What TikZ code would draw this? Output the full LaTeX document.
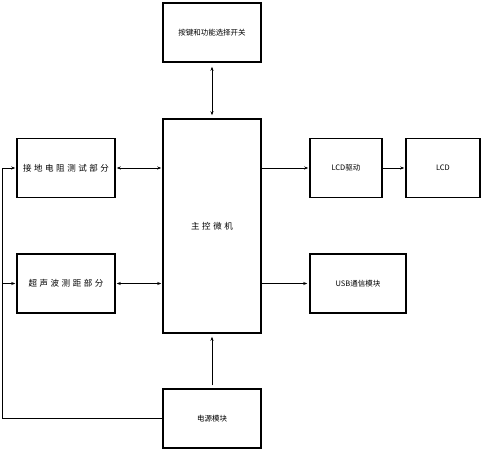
\documentclass[tikz,border=0pt]{standalone}
\usepackage{fontspec}
\setmainfont{Noto Sans CJK SC}
\newfontfamily\widecjk[LetterSpace=30]{Noto Sans CJK SC}
\usetikzlibrary{arrows.meta}

\begin{document}
\begin{tikzpicture}[x=1pt, y=-1pt, >={Stealth[length=4pt,width=3pt]},
    every node/.style={font=\fontsize{7.5}{9}\selectfont}]
  \tikzstyle{block}=[draw, line width=1.5pt, inner sep=0pt, minimum width=98pt, minimum height=59pt, align=center]
  \tikzstyle{link}=[line width=0.6pt]
  \useasboundingbox (0,0) rectangle (483,450);
  % blocks
  \node[block] (keys)   at (212,32.5)  {按键和功能选择开关};
  \node[block, minimum height=214pt] (mcu) at (212,226)
       {\fontsize{8.5}{10}\widecjk 主控微机};
  \node[block] (ground) at (66,168)    {\fontsize{8.5}{10}\widecjk 接地电阻测试部分};
  \node[block] (sonic)  at (66,283.5)  {\fontsize{8.5}{10}\widecjk 超声波测距部分};
  \node[block, minimum width=72pt] (lcddrv) at (346,168) {LCD驱动};
  \node[block, minimum width=74pt] (lcd)    at (443,168) {LCD};
  \node[block, minimum width=96pt] (usb)    at (358,283.5) {USB通信模块};
  \node[block] (power)  at (212,418.5) {电源模块};
  % links to the controller
  \draw[link, <->, shorten <=4pt, shorten >=3pt] (keys) -- (mcu);
  \foreach \j in {ground,sonic}{
    \draw[link, <->, shorten <=1pt, shorten >=1pt] (\j.east) -- (\j.east -| mcu.west);
  }
  \draw[link, ->, shorten >=1pt] (mcu.east |- lcddrv.west) -- (lcddrv.west);
  \draw[link, ->, shorten >=1pt] (lcddrv) -- (lcd);
  \draw[link, ->, shorten >=2pt] (mcu.east |- usb.west) -- (usb.west);
  \draw[link, ->, shorten <=3pt, shorten >=3pt] (power) -- (mcu);
  % supply line on the left
  \coordinate (bus) at (2,418);
  \draw[link, ->, shorten >=1pt] (power.west |- bus) -- (bus) |- (ground.west);
  \draw[link, ->, shorten >=1pt] (bus |- sonic.west) -- (sonic.west);
\end{tikzpicture}
\end{document}
